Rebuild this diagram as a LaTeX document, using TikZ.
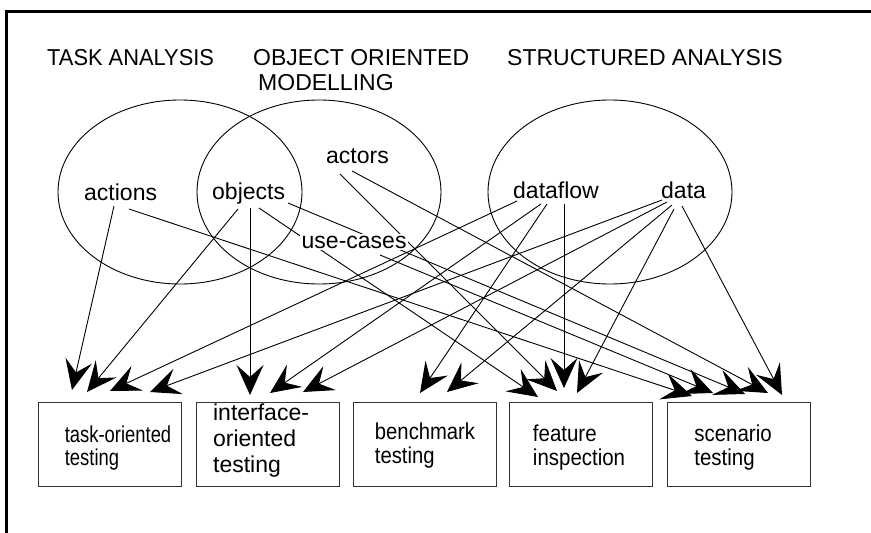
\documentclass[tikz,border=0pt]{standalone}
\usepackage{fontspec}
\setmainfont{Liberation Sans}
\usepackage{graphicx}
\usetikzlibrary{arrows.meta}
\pgfdeclarelayer{under}
\pgfsetlayers{under,main}
% horizontally condensed text
\newcommand{\narrowtxt}[2]{\scalebox{#1}[1]{#2}}

\begin{document}
\begin{tikzpicture}[x=1pt,y=-1pt,
  title/.style={anchor=base west,inner sep=0pt,font=\fontsize{23}{27}\selectfont},
  lbl/.style={anchor=base west,inner sep=0pt,font=\fontsize{23}{27}\selectfont},
  testbox/.style={draw=black!80,line width=1.1pt,minimum width=143pt,minimum height=84pt,anchor=north west,inner sep=0pt},
  boxtext/.style={align=left,inner sep=0pt,font=\fontsize{23}{24.5}\selectfont},
  link/.style={line width=0.9pt,-{Stealth[length=30pt,width=27pt,inset=12pt]}},
  area/.style={line width=0.9pt}]

\useasboundingbox (0,0) rectangle (871,533);

% frame
\draw[line width=3pt] (6.5,533) -- (6.5,11) -- (871,11);

% method headings
\node[title] (ta)  at (47,65)  {\narrowtxt{0.95}{TASK ANALYSIS}};
\node[title] (oo)  at (253,65) {OBJECT ORIENTED};
\node[title] (oom) at (258,90) {MODELLING};
\node[title] (sa)  at (507,65) {STRUCTURED ANALYSIS};

% analysis products
\node[lbl] (actions)  at (84,200)  {actions};
\node[lbl] (objects)  at (212,199) {objects};
\node[lbl] (actors)   at (326,163) {actors};
\node[lbl,fill=white,inner sep=1.5pt] (usecases) at (300,248) {use-cases};
\node[lbl] (dataflow) at (513,198) {dataflow};
\node[lbl] (data)     at (661,198) {data};

% testing methods
\node[testbox] (b1) at (38,402)  {};
\node[testbox] (b2) at (196,402) {};
\node[testbox] (b3) at (353,402) {};
\node[testbox] (b4) at (509,402) {};
\node[testbox] (b5) at (667,402) {};

\node[boxtext,font=\fontsize{23}{23}\selectfont] (b1t) at ([shift={(8,3)}]b1.center)
  {\narrowtxt{0.8}{task-oriented}\\\narrowtxt{0.8}{testing}};
\node[boxtext,font=\fontsize{23}{26}\selectfont] (b2t) at ([shift={(-7,-4)}]b2.center)
  {interface-\\oriented\\testing};
\node[boxtext] (b3t) at ([shift={(0,1)}]b3.center)
  {\narrowtxt{0.88}{benchmark}\\\narrowtxt{0.88}{testing}};
\node[boxtext] (b4t) at ([shift={(-2,3)}]b4.center)
  {\narrowtxt{0.89}{feature}\\\narrowtxt{0.89}{inspection}};
\node[boxtext] (b5t) at ([shift={(-6,3)}]b5.center)
  {\narrowtxt{0.89}{scenario}\\\narrowtxt{0.89}{testing}};

\begin{pgfonlayer}{under}
  % analysis areas
  \draw[area] (180,192) ellipse [x radius=122pt, y radius=92pt];
  \draw[area] (319,192) ellipse [x radius=122pt, y radius=92pt];
  \draw[area] (610,192) ellipse [x radius=122pt, y radius=92pt];

  % actions
  \draw[link] ([shift={(30,6)}]actions.base west) -- ([shift={(34,-12)}]b1.north west);
  \draw[link] ([shift={(45,9)}]actions.base west) -- ([shift={(25,-6)}]b5.north west);
  % objects
  \draw[link] ([shift={(26,10)}]objects.base west) -- ([shift={(49,-10)}]b1.north west);
  \draw[link] ([shift={(38,9)}]objects.base west) -- ([shift={(54,-7)}]b2.north west);
  \draw[link] ([shift={(47,9)}]objects.base west) -- ([shift={(29,-5)}]b4.north west);
  \draw[link] ([shift={(76,4)}]objects.base west) -- ([shift={(78,-8)}]b5.north west);
  % actors
  \draw[link] ([shift={(14,11)}]actors.base west) -- ([shift={(48,-11)}]b4.north west);
  \draw[link] ([shift={(26,8)}]actors.base west) -- ([shift={(101,-9)}]b5.north west);
  % use-cases
  \draw[link] ([shift={(80,7)}]usecases.base west) -- ([shift={(46,-9)}]b5.north west);
  % dataflow
  \draw[link] ([shift={(4,3)}]dataflow.base west) -- ([shift={(72,-11)}]b1.north west);
  \draw[link] ([shift={(28,6)}]dataflow.base west) -- ([shift={(74,-9)}]b2.north west);
  \draw[link] ([shift={(34,6)}]dataflow.base west) -- ([shift={(67,-9)}]b3.north west);
  \draw[link] ([shift={(51,6)}]dataflow.base west) -- ([shift={(55,-14)}]b4.north west);
  % data
  \draw[link] ([shift={(1,2)}]data.base west) -- ([shift={(112,-10)}]b1.north west);
  \draw[link] ([shift={(6,4)}]data.base west) -- ([shift={(107,-10)}]b2.north west);
  \draw[link] ([shift={(11,7)}]data.base west) -- ([shift={(94,-10)}]b3.north west);
  \draw[link] ([shift={(13,11)}]data.base west) -- ([shift={(68,-9)}]b4.north west);
  \draw[link] ([shift={(21,8)}]data.base west) -- ([shift={(115,-7)}]b5.north west);
\end{pgfonlayer}
\end{tikzpicture}
\end{document}
